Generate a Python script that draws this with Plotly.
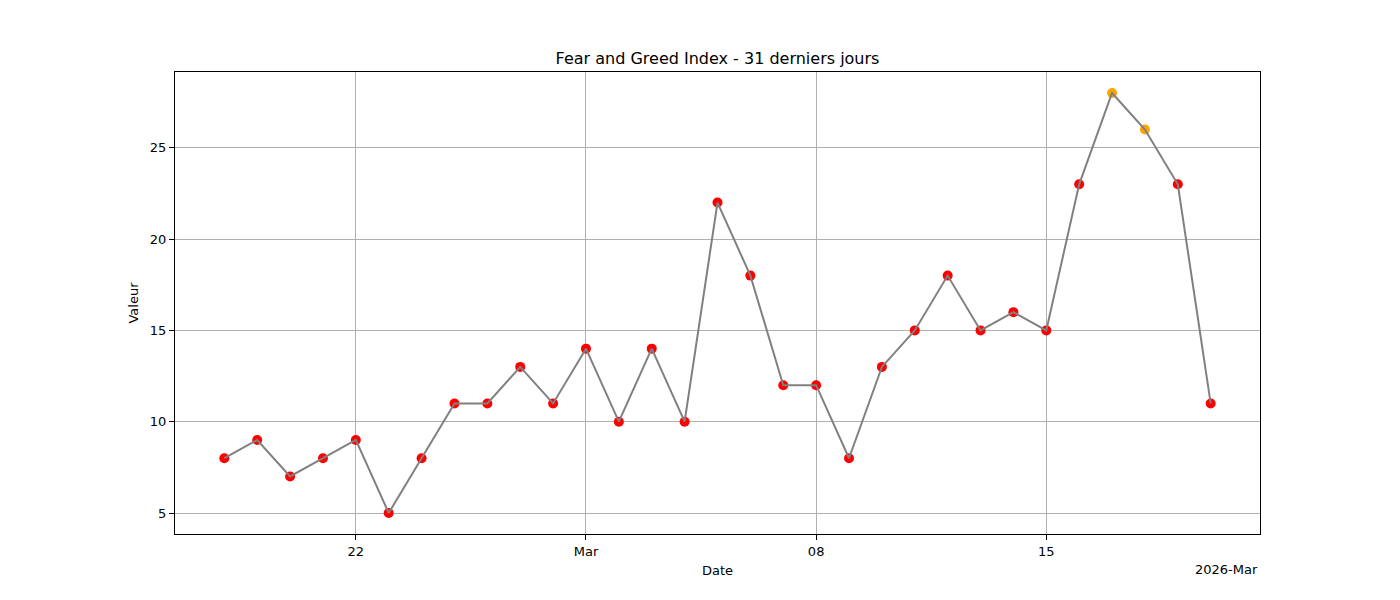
import plotly.graph_objects as go
import pandas as pd

dates = pd.date_range("2026-02-18", "2026-03-20", freq="D")
values = [8, 9, 7, 8, 9, 5, 8, 11, 11, 13, 11, 14, 10, 14, 10, 22, 18, 12, 12, 8,
          13, 15, 18, 15, 16, 15, 23, 28, 26, 23, 11]
tick_dates = ["2026-02-22", "2026-03-01", "2026-03-08", "2026-03-15"]
tick_labels = ["22", "Mar", "08", "15"]
y_ticks = [5, 10, 15, 20, 25]

colors = ["red" if v < 25 else "orange" for v in values]

fig = go.Figure()
fig.add_trace(go.Scatter(x=dates, y=values, mode="markers",
                         marker=dict(color=colors, size=10, line=dict(width=0)),
                         showlegend=False))
fig.add_trace(go.Scatter(x=dates, y=values, mode="lines",
                         line=dict(color="#808080", width=2),
                         showlegend=False))

axis_common = dict(showline=True, linecolor="black", linewidth=1, mirror=True,
                   ticks="outside", ticklen=5, tickcolor="black", tickwidth=1,
                   showgrid=True, gridcolor="#b0b0b0", gridwidth=1, zeroline=False,
                   tickfont=dict(size=13, color="black"))

fig.update_layout(
    width=1400, height=600,
    paper_bgcolor="white", plot_bgcolor="white",
    margin=dict(l=167, r=148, t=64, b=74),
    font=dict(family="DejaVu Sans", size=13, color="black"),
    title=dict(text="Fear and Greed Index - 31 derniers jours", x=0.5, xanchor="center",
               xref="paper", y=1 - 50 / 600, yanchor="middle", font=dict(size=16)),
    xaxis=dict(range=["2026-02-16 12:00", "2026-03-21 12:00"], type="date",
               tickvals=tick_dates, ticktext=tick_labels,
               title=dict(text="Date", standoff=8, font=dict(size=13)), **axis_common),
    yaxis=dict(range=[3.85, 29.15], tickvals=y_ticks,
               title=dict(text="Valeur", standoff=8, font=dict(size=13)), **axis_common),
    annotations=[dict(text="2026-Mar", xref="paper", yref="paper", x=1, y=0,
                      xanchor="right", yanchor="top", yshift=-26, showarrow=False,
                      font=dict(size=13, color="black"))],
)

fig.write_html("out.html")
